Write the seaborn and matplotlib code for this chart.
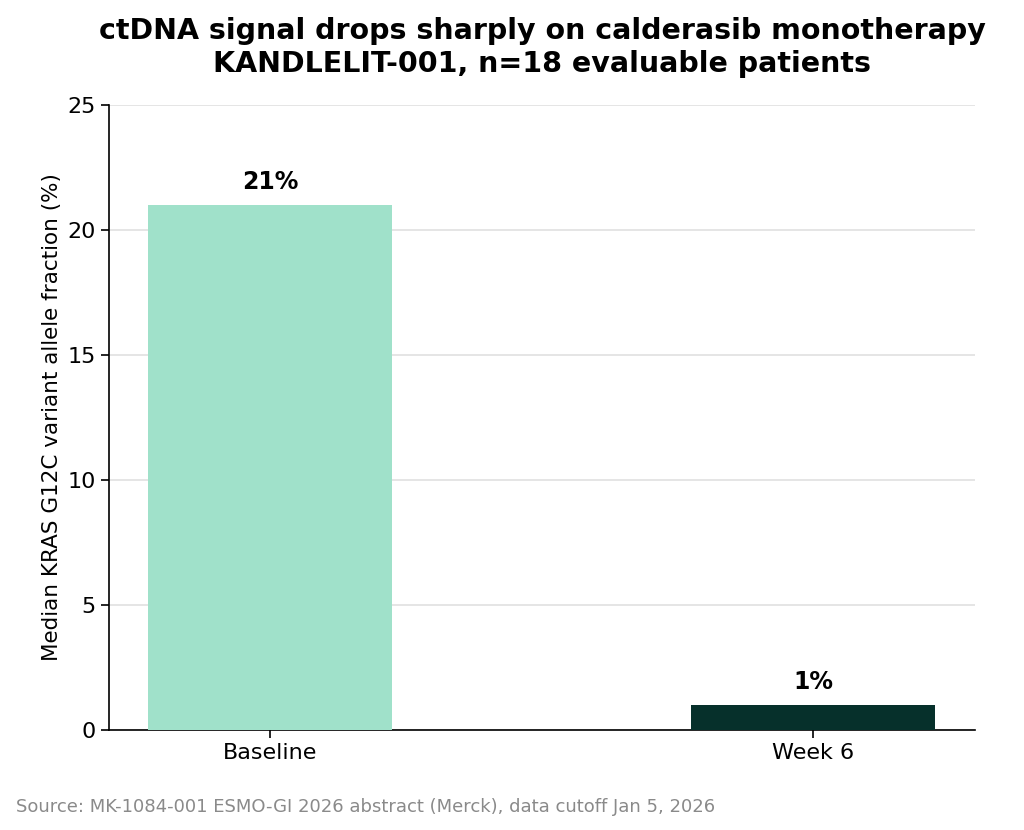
import pandas as pd
import matplotlib.pyplot as plt
import seaborn as sns

# Median VAF by timepoint
timepoints = ["Baseline", "Week 6"]
median_vaf = [21, 1]
bar_colors = ["#a0e1ca", "#06302b"]

df = pd.DataFrame({"Timepoint": timepoints, "VAF": median_vaf})

plt.rcParams["font.family"] = "sans-serif"
plt.rcParams["font.sans-serif"] = ["DejaVu Sans"]

fig = plt.figure(figsize=(10.24, 8.3), dpi=100)
ax = fig.add_axes([0.1064, 0.1205, 0.8457, 0.753])

sns.barplot(data=df, x="Timepoint", y="VAF", hue="Timepoint", palette=bar_colors,
            width=0.45, legend=False, saturation=1, ax=ax, zorder=3)

# value labels above the bars
for i, v in enumerate(median_vaf):
    ax.text(i, v + 0.45, f"{v}%", ha="center", va="bottom",
            fontsize=17, fontweight="bold", color="black")

ax.set_xlim(-0.297, 1.298)
ax.set_ylim(0, 25)
ax.set_yticks([0, 5, 10, 15, 20, 25])
ax.yaxis.grid(True, color="#e0e0e0", linewidth=1.2, zorder=0)
ax.set_axisbelow(True)
sns.despine(ax=ax)
for s in ["left", "bottom"]:
    ax.spines[s].set_linewidth(1.2)
    ax.spines[s].set_color("black")
ax.tick_params(axis="both", labelsize=16, length=6, width=1.2, colors="black")

ax.set_xlabel("")
ax.set_ylabel("Median KRAS G12C variant allele fraction (%)", fontsize=15.5, color="black")
ax.set_title("ctDNA signal drops sharply on calderasib monotherapy\n"
             "KANDLELIT-001, n=18 evaluable patients",
             fontsize=20.5, fontweight="bold", pad=24, color="black")

fig.text(0.016, 0.022, "Source: MK-1084-001 ESMO-GI 2026 abstract (Merck), data cutoff Jan 5, 2026",
         fontsize=13, color="#8a8a8a")

fig.savefig("out.png", dpi=100)
